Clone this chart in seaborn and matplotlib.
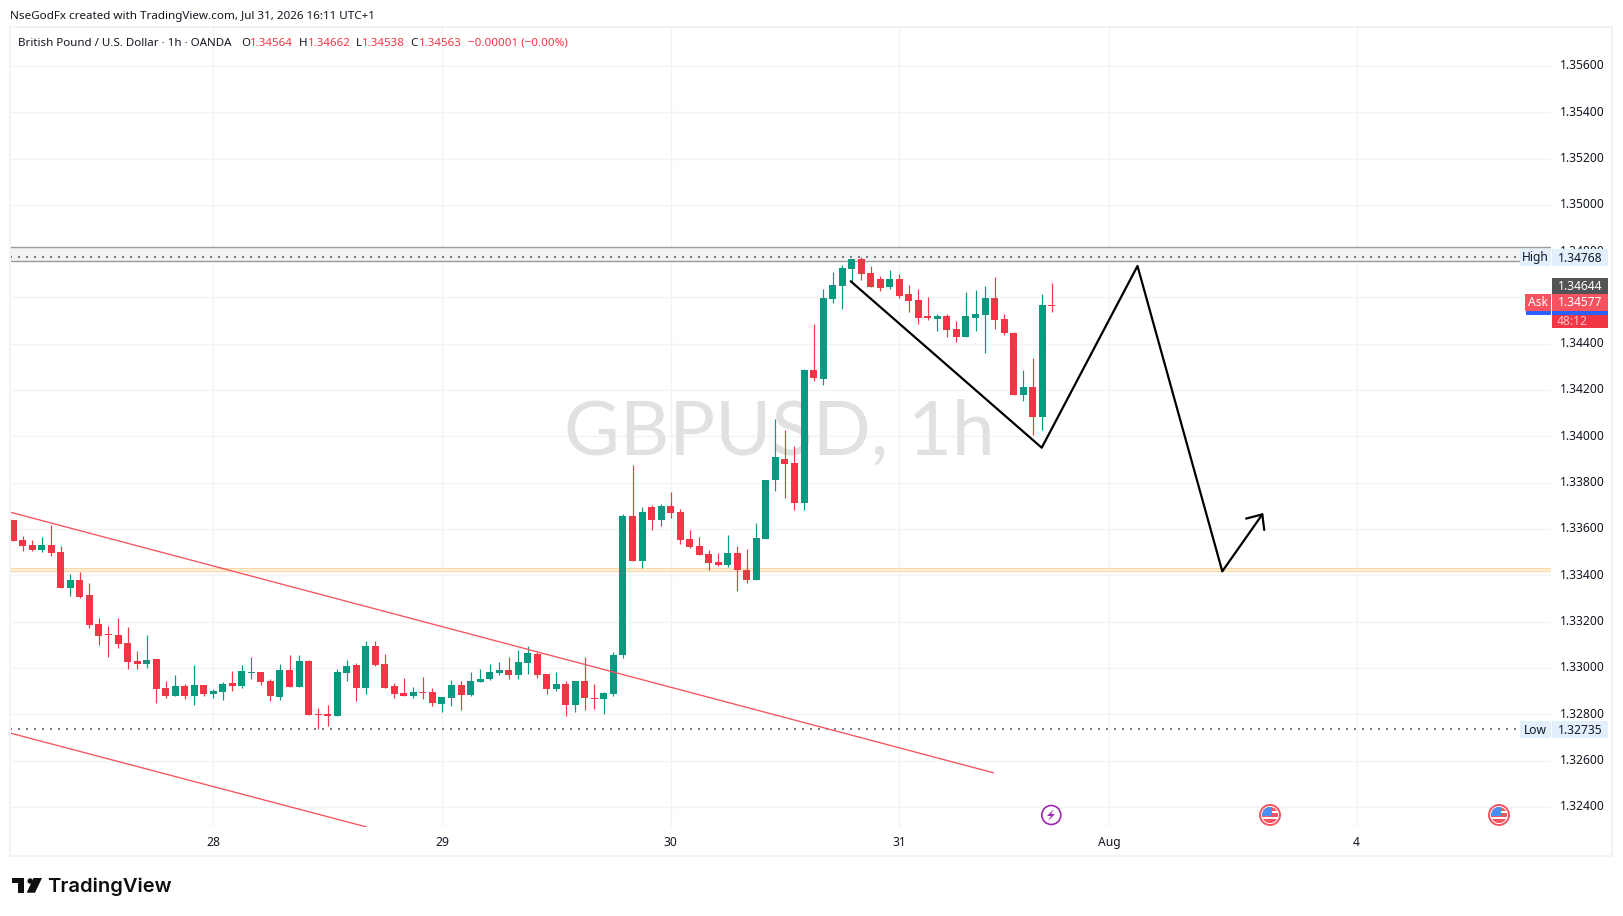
import pandas as pd
import matplotlib
matplotlib.use("Agg")
import matplotlib.pyplot as plt
from matplotlib.patches import Circle, Polygon, Rectangle
from matplotlib.transforms import ScaledTranslation
import seaborn as sns

# hourly candles
opens = [
    1.33639, 1.33553, 1.33531, 1.33510, 1.33531, 1.33501, 1.33345, 1.33380, 1.33315, 1.33190,
    1.33147, 1.33142, 1.33108, 1.33030, 1.33017, 1.33039, 1.32913, 1.32879, 1.32922, 1.32879,
    1.32926, 1.32888, 1.32896, 1.32935, 1.32922, 1.32978, 1.32983, 1.32944, 1.32875, 1.32991,
    1.32918, 1.33030, 1.32800, 1.32798, 1.32792, 1.32978, 1.33012, 1.32913, 1.33094, 1.33017,
    1.32921, 1.32891, 1.32878, 1.32896, 1.32896, 1.32844, 1.32870, 1.32926, 1.32883, 1.32939,
    1.32952, 1.32978, 1.32991, 1.32969, 1.33021, 1.33060, 1.32973, 1.32909, 1.32930, 1.32839,
    1.32943, 1.32870, 1.32865, 1.32887, 1.33055, 1.33657, 1.33462, 1.33696, 1.33639, 1.33700,
    1.33674, 1.33557, 1.33527, 1.33493, 1.33458, 1.33445, 1.33497, 1.33423, 1.33380, 1.33557,
    1.33812, 1.33903, 1.33886, 1.33713, 1.34287, 1.34249, 1.34594, 1.34650, 1.34724, 1.34767,
    1.34706, 1.34681, 1.34646, 1.34681, 1.34616, 1.34590, 1.34516, 1.34508, 1.34521, 1.34465,
    1.34430, 1.34512, 1.34525, 1.34598, 1.34508, 1.34447, 1.34179, 1.34214, 1.34084, 1.34564,
]
highs = [
    1.33639, 1.33570, 1.33553, 1.33566, 1.33618, 1.33527, 1.33406, 1.33415, 1.33367, 1.33216,
    1.33181, 1.33216, 1.33177, 1.33073, 1.33142, 1.33039, 1.32944, 1.32970, 1.32931, 1.33013,
    1.32926, 1.32909, 1.32939, 1.32987, 1.33013, 1.33047, 1.32983, 1.32952, 1.33017, 1.33056,
    1.33056, 1.33034, 1.32827, 1.32839, 1.32995, 1.33034, 1.33021, 1.33116, 1.33116, 1.33060,
    1.32934, 1.32956, 1.32917, 1.32960, 1.32913, 1.32874, 1.32947, 1.32943, 1.32982, 1.32995,
    1.33017, 1.33025, 1.33047, 1.33077, 1.33094, 1.33068, 1.32973, 1.32982, 1.32943, 1.32943,
    1.33047, 1.32930, 1.32896, 1.33068, 1.33665, 1.33877, 1.33696, 1.33704, 1.33709, 1.33760,
    1.33687, 1.33596, 1.33566, 1.33510, 1.33497, 1.33575, 1.33527, 1.33514, 1.33626, 1.33812,
    1.34076, 1.34028, 1.33959, 1.34292, 1.34486, 1.34637, 1.34711, 1.34741, 1.34768, 1.34776,
    1.34737, 1.34693, 1.34719, 1.34702, 1.34655, 1.34637, 1.34603, 1.34529, 1.34529, 1.34499,
    1.34624, 1.34633, 1.34650, 1.34689, 1.34529, 1.34452, 1.34287, 1.34339, 1.34616, 1.34662,
]
lows = [
    1.33548, 1.33505, 1.33505, 1.33501, 1.33484, 1.33345, 1.33311, 1.33302, 1.33173, 1.33099,
    1.33047, 1.33086, 1.32996, 1.32996, 1.33000, 1.32849, 1.32870, 1.32879, 1.32866, 1.32840,
    1.32879, 1.32870, 1.32862, 1.32900, 1.32913, 1.32952, 1.32926, 1.32857, 1.32862, 1.32918,
    1.32918, 1.32797, 1.32736, 1.32749, 1.32792, 1.32943, 1.32857, 1.32887, 1.33008, 1.32913,
    1.32870, 1.32878, 1.32870, 1.32865, 1.32835, 1.32809, 1.32835, 1.32818, 1.32878, 1.32939,
    1.32947, 1.32969, 1.32952, 1.32952, 1.32973, 1.32956, 1.32887, 1.32900, 1.32792, 1.32809,
    1.32818, 1.32822, 1.32801, 1.32878, 1.33045, 1.33462, 1.33432, 1.33596, 1.33613, 1.33648,
    1.33536, 1.33518, 1.33488, 1.33423, 1.33441, 1.33436, 1.33333, 1.33367, 1.33380, 1.33557,
    1.33765, 1.33734, 1.33683, 1.33683, 1.34240, 1.34223, 1.34577, 1.34551, 1.34668, 1.34676,
    1.34646, 1.34629, 1.34637, 1.34598, 1.34538, 1.34486, 1.34503, 1.34456, 1.34430, 1.34408,
    1.34430, 1.34456, 1.34361, 1.34465, 1.34439, 1.34179, 1.34153, 1.34007, 1.34028, 1.34538,
]
closes = [
    1.33548, 1.33527, 1.33510, 1.33531, 1.33497, 1.33345, 1.33380, 1.33307, 1.33186, 1.33138,
    1.33142, 1.33104, 1.33026, 1.33017, 1.33034, 1.32909, 1.32879, 1.32922, 1.32879, 1.32926,
    1.32888, 1.32900, 1.32931, 1.32922, 1.32987, 1.32983, 1.32939, 1.32879, 1.32991, 1.32918,
    1.33030, 1.32797, 1.32797, 1.32793, 1.32982, 1.33008, 1.32913, 1.33094, 1.33012, 1.32913,
    1.32887, 1.32878, 1.32896, 1.32891, 1.32848, 1.32874, 1.32926, 1.32883, 1.32943, 1.32952,
    1.32982, 1.32991, 1.32969, 1.33025, 1.33064, 1.32969, 1.32909, 1.32930, 1.32839, 1.32943,
    1.32870, 1.32865, 1.32891, 1.33055, 1.33657, 1.33462, 1.33674, 1.33639, 1.33700, 1.33670,
    1.33553, 1.33523, 1.33488, 1.33454, 1.33445, 1.33497, 1.33423, 1.33380, 1.33562, 1.33812,
    1.33912, 1.33881, 1.33713, 1.34287, 1.34253, 1.34598, 1.34655, 1.34728, 1.34767, 1.34702,
    1.34646, 1.34642, 1.34681, 1.34607, 1.34585, 1.34512, 1.34512, 1.34521, 1.34460, 1.34430,
    1.34521, 1.34529, 1.34598, 1.34503, 1.34447, 1.34179, 1.34214, 1.34084, 1.34568, 1.34563,
]

price_ticks = [1.324, 1.326, 1.328, 1.33, 1.332, 1.334, 1.336, 1.338, 1.34, 1.342, 1.344,
               1.346, 1.348, 1.35, 1.352, 1.354, 1.356]
day_bars = [21, 45, 69, 93, 115, 141]
day_labels = ["28", "29", "30", "31", "Aug", "4"]

# drawings on the chart: (bar number, price)
trend_upper_bar = [-0.34, 102.9]
trend_upper_price = [1.33673, 1.32547]
trend_lower_bar = [-0.34, 37.1]
trend_lower_price = [1.32719, 1.32313]
path_bar = [87.9, 107.95, 118.0, 126.9, 131.1]
path_price = [1.34670, 1.33951, 1.34736, 1.33417, 1.33663]
arrow_bar = [129.4, 131.1, 131.3]
arrow_price = [1.33645, 1.33663, 1.33596]

high_level = 1.34776
low_level = 1.32735
grey_zone = (1.34756, 1.34817)
orange_zone = (1.33420, 1.33430)

GREEN = "#089981"
RED = "#f23645"
GRID = "#f3f3f4"
TEXT = "#131722"

sns.set_theme(style="white")
plt.rcParams["font.family"] = ["Noto Sans", "DejaVu Sans"]

W, H = 1623, 916
fig = plt.figure(figsize=(W / 100, H / 100), dpi=100, facecolor="white")
ax = fig.add_axes([10 / W, 1 - 827 / H, (1551 - 10) / W, (827 - 27) / H])

df = pd.DataFrame({"bar": range(len(opens)), "open": opens, "high": highs, "low": lows, "close": closes})
df["up"] = df["close"] >= df["open"]
df["color"] = df["up"].map({True: GREEN, False: RED})
df["top"] = df[["open", "close"]].max(axis=1)
df["bottom"] = df[["open", "close"]].min(axis=1)
# a doji still shows as a one pixel body
df["body"] = (df["top"] - df["bottom"]).clip(lower=0.00006)

ax.set_xlim(-0.336, 161.4)
ax.set_ylim(1.32313, 1.35768)

ax.set_yticks(price_ticks)
ax.set_yticklabels([f"{p:.5f}" for p in price_ticks])
ax.yaxis.tick_right()
ax.set_xticks(day_bars)
ax.set_xticklabels(day_labels)
ax.tick_params(axis="both", length=0, labelsize=8.7, labelcolor=TEXT)
ax.tick_params(axis="y", pad=7)
ax.tick_params(axis="x", pad=6.3)
ax.grid(True, color=GRID, linewidth=1.0)
ax.set_axisbelow(True)
for spine in ax.spines.values():
    spine.set_visible(False)

ax.text(0.4994, 0.4925, "GBPUSD, 1h", transform=ax.transAxes, ha="center", va="center",
        fontsize=55, color="#e1e1e1", family="Lato", zorder=1)

# levels
ax.axhspan(*grey_zone, color="#f2f2f2", lw=0, zorder=1.5)
ax.axhspan(*orange_zone, color="#fff3e0", lw=0, zorder=1.5)
for level in grey_zone:
    ax.axhline(level, color="#9b9b9b", lw=1.0, zorder=1.6)
for level in orange_zone:
    ax.axhline(level, color="#ffd9a3", lw=0.9, zorder=1.6)
for level in (high_level, low_level):
    ax.axhline(level, color="#787b86", lw=1.44, ls=(0, (1, 3)), zorder=1.7)

# candles
ax.vlines(df["bar"], df["low"], df["high"], colors=df["color"], lw=0.85, zorder=3)
ax.bar(df["bar"], df["body"], bottom=df["bottom"], width=0.735,
       color=df["color"], linewidth=0, zorder=3)

# trend lines and the projected path
for xs, ys, color, lw in [
    (trend_upper_bar, trend_upper_price, "#f7525f", 0.95),
    (trend_lower_bar, trend_lower_price, "#f7525f", 0.95),
    (path_bar, path_price, "black", 1.6),
    (arrow_bar, arrow_price, "black", 1.6),
]:
    sns.lineplot(x=xs, y=ys, ax=ax, estimator=None, sort=False, color=color, lw=lw,
                 legend=False, zorder=4)
ax.set_xlabel("")
ax.set_ylabel("")
ax.set_xlim(-0.336, 161.4)
ax.set_ylim(1.32313, 1.35768)

# nudge price labels up onto their grid lines
for label in ax.get_yticklabels():
    label.set_transform(label.get_transform() + ScaledTranslation(-0.01, 1.6 / 100, fig.dpi_scale_trans))

# overlay in pixels for the TradingView furniture
ov = fig.add_axes([0, 0, 1, 1], facecolor="none")
ov.set_xlim(0, W)
ov.set_ylim(H, 0)
ov.axis("off")

ov.add_patch(Rectangle((10, 27), 1602, 829, fill=False, ec=GRID, lw=1.5))

ov.text(10, 16, "NseGodFx created with TradingView.com, Jul 31, 2026 16:11 UTC+1", fontsize=8.4,
        color=TEXT, va="center")
header_y = 43
ov.text(18, header_y, "British Pound / U.S. Dollar · 1h · OANDA", fontsize=8.3, color=TEXT, va="center")
for x, label, color in [
    (241, "O", TEXT), (249.5, "1.34564", RED), (298.5, "H", TEXT), (308, "1.34662", RED),
    (356, "L", TEXT), (362.4, "1.34538", RED), (410.6, "C", TEXT), (419, "1.34563", RED),
    (467.7, "−0.00001 (−0.00%)", RED),
]:
    ov.text(x, header_y, label, fontsize=8.3, color=color, va="center")


def price_box(y0, y1, label, bg, fg, x0=1552, x1=1608):
    ov.add_patch(Rectangle((x0, y0), x1 - x0, y1 - y0, fc=bg, ec="none", zorder=5))
    ov.text((x0 + x1) / 2, (y0 + y1) / 2 + 0.5, label, fontsize=8.7, color=fg, ha="center", va="center", zorder=6)


price_box(249, 266, "High", "#e3effd", TEXT, 1520, 1551)
price_box(249, 266, "1.34768", "#e3effd", TEXT)
price_box(721, 738, "Low", "#e3effd", TEXT, 1520, 1551)
price_box(721, 738, "1.32735", "#e3effd", TEXT)
price_box(311, 328, "", RED, "white")
ov.text(1572, 321.5, "48:12", fontsize=8.7, color="#fbc4c8", ha="center", va="center", zorder=7)
ov.add_patch(Rectangle((1552, 311), 56, 4, fc="#2962ff", ec="none", zorder=6))
ov.add_patch(Rectangle((1526, 311), 25, 4, fc="#2962ff", ec="none", zorder=6))
price_box(278, 294, "1.34644", "#535353", "white")
price_box(294, 311, "1.34577", "#f7525f", "white")
price_box(294, 311, "Ask", "#f7525f", "white", 1525, 1551)

# event icons
ov.add_patch(Circle((1051.3, 815), 9.5, fc="white", ec="#9c27b0", lw=1.2, zorder=5))
ov.add_patch(Polygon([(1054, 809), (1047, 816), (1051, 816), (1048, 821), (1055, 814), (1051, 814)],
                     fc="#9c27b0", ec="none", zorder=6))
for cx in (1270, 1499):
    ring = Circle((cx, 815), 10, fc="white", ec="#f7525f", lw=1.4, zorder=5)
    ov.add_patch(ring)
    inner = Circle((cx, 815), 8, transform=ov.transData)
    for x, y, w, h, color in [
        (cx - 8, 807, 16, 4, "#f7525f"), (cx - 8, 813, 16, 3.5, "#f7525f"),
        (cx - 8, 819, 16, 4, "#f7525f"), (cx - 8, 807, 10, 8.5, "#4a90f0"),
    ]:
        part = Rectangle((x, y), w, h, fc=color, ec="none", zorder=6)
        ov.add_patch(part)
        part.set_clip_path(inner)

# logo
ov.add_patch(Polygon([(12, 878), (24.3, 878), (24.3, 892.7), (18.3, 892.7), (18.3, 882.6), (12, 882.6)],
                     fc="#0f0f0f", ec="none"))
ov.add_patch(Circle((30.2, 881), 2.7, fc="#0f0f0f", ec="none"))
ov.add_patch(Polygon([(42, 878), (33.5, 878), (26.7, 892.7), (35, 892.7)], fc="#0f0f0f", ec="none"))
ov.text(46.8, 887, "TradingView", fontsize=14.5, fontweight="semibold", family="Inter",
        color="#0f0f0f", va="center")

fig.savefig("out.png", dpi=100, facecolor="white")
plt.close(fig)
